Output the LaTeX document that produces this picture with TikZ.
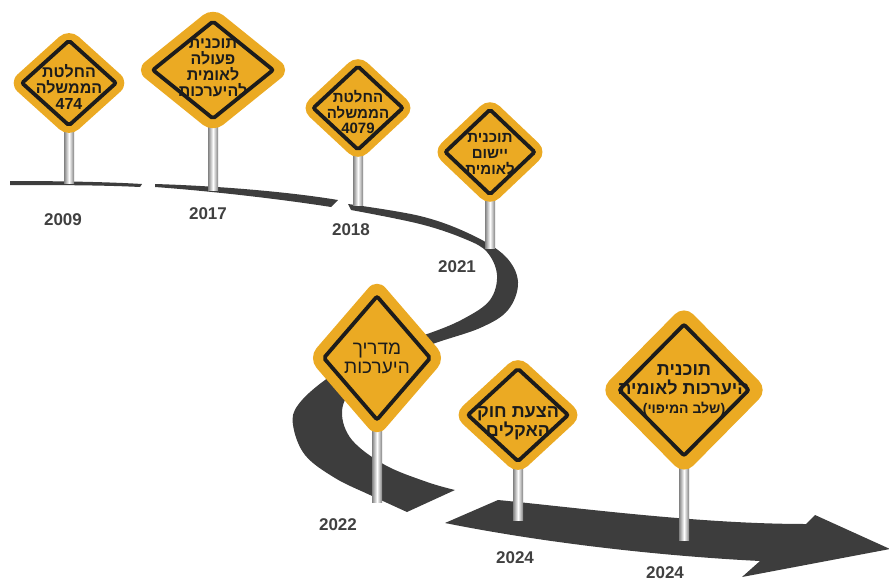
\documentclass[tikz,border=0pt]{standalone}
\usepackage{fontspec}
\setmainfont{Liberation Sans}
\newfontfamily\hebfont[Script=Hebrew]{Liberation Sans}
\TeXXeTstate=1
\newcommand{\heb}[1]{{\hebfont\beginR#1\endR}}
\definecolor{signyellow}{RGB}{235,170,35}
\definecolor{signline}{RGB}{28,28,28}
\definecolor{roadgray}{RGB}{61,61,61}
\definecolor{yeargray}{RGB}{64,64,64}
\definecolor{postgray}{RGB}{130,130,130}
\tikzset{
	road/.style={fill=roadgray},
	post/.style={left color=postgray, right color=postgray, middle color=white},
	sign plate/.style={fill=signyellow, rounded corners=13pt},
	sign frame/.style={draw=signline, line width=3.8pt, rounded corners=2pt},
	sign text/.style={
		align=center,
		inner sep=0pt,
		text=signline,
		font=\bfseries\fontsize{16}{16}\selectfont
	},
	year/.style={text=yeargray, font=\bfseries\fontsize{17}{17}\selectfont},
}

\begin{document}
\begin{tikzpicture}[x=1pt, y=-1pt]
\useasboundingbox (0,0) rectangle (889,581);

% road
\fill[road] (10,181) .. controls (60,181) and (110,182) .. (142,184)
	-- (140,187) .. controls (100,185) and (50,185) .. (10,185) -- cycle;
\fill[road] (155,184) .. controls (220,186) and (290,192) .. (338,200)
	-- (331,207) .. controls (280,199) and (210,191) .. (155,187) -- cycle;
\fill[road] plot[smooth, tension=0.6] coordinates {(348,204) (420,216) (470,234) (505,256) (518,282) (508,310) (480,328) (430,345) (385,365) (352,390) (342,413) (352,440) (385,465) (427,482) (455,490)}
	-- plot[smooth, tension=0.6] coordinates {(407,512) (370,495) (335,478) (305,455) (293,425) (298,405) (325,380) (370,352) (430,333) (465,318) (490,300) (497,275) (487,252) (465,239) (420,224) (351,210)}
	-- cycle;
\fill[road] (445,523) -- (498,500) .. controls (580,508) and (700,524) .. (806,524)
	-- (815,515) -- (890,549) -- (742,577) -- (760,561)
	.. controls (680,557) and (560,546) .. (445,523) -- cycle;

% signs
\foreach \sname/\cx/\cy/\hw/\hh/\pbase in {
	s1/69/83/61/55/183, s2/213/70/78/63/190, s3/358/108/58/54/205, s4/490/152/58/55/248,
	s5/377/358/69/80/502, s6/518/415/65/60/520, s7/684/390/84/85/540}{
	\fill[post] (\cx-5,\cy+\hh-8) rectangle (\cx+5,\pbase);
	\fill[sign plate] (\cx-\hw,\cy) -- (\cx,\cy-\hh) -- (\cx+\hw,\cy) -- (\cx,\cy+\hh) -- cycle;
	\draw[sign frame] (\cx-0.77*\hw,\cy) -- (\cx,\cy-0.77*\hh) -- (\cx+0.77*\hw,\cy) -- (\cx,\cy+0.77*\hh) -- cycle;
	\coordinate (\sname) at (\cx,\cy);
}

\node[sign text, yshift=-4pt] (s1-text) at (s1) {\heb{החלטת}\\\heb{הממשלה}\\474};
\node[sign text, yshift=2pt] (s2-text) at (s2) {\heb{תוכנית}\\\heb{פעולה}\\\heb{לאומית}\\\heb{להיערכות}};
\node[sign text, yshift=-4pt, font=\bfseries\fontsize{15}{15.5}\selectfont] (s3-text) at (s3) {\heb{החלטת}\\\heb{הממשלה}\\4079};
\node[sign text, yshift=-2pt, font=\bfseries\fontsize{15}{16}\selectfont] (s4-text) at (s4) {\heb{תוכנית}\\\heb{יישום}\\\heb{לאומית}};
\node[sign text, font=\fontsize{19}{19}\selectfont] (s5-text) at (s5) {\heb{מדריך}\\\heb{היערכות}};
\node[sign text, yshift=-8pt, font=\bfseries\fontsize{18}{16}\selectfont] (s6-text) at (s6) {\heb{הצעת חוק}\\\heb{האקלים}};
\node[sign text, font=\bfseries\fontsize{18}{19}\selectfont] (s7-text) at (s7) {\heb{תוכנית}\\\heb{היערכות לאומית}\\{\fontsize{14}{16}\selectfont\heb{(שלב המיפוי)}}};

% years
\foreach \yr/\x/\y [count=\i] in {2009/63/220, 2017/208/214, 2018/351/230, 2021/457/267, 2022/338/525, 2024/515/558, 2024/665/573}
	\node[year] (year-\i) at (\x,\y) {\yr};

\end{tikzpicture}
\end{document}
